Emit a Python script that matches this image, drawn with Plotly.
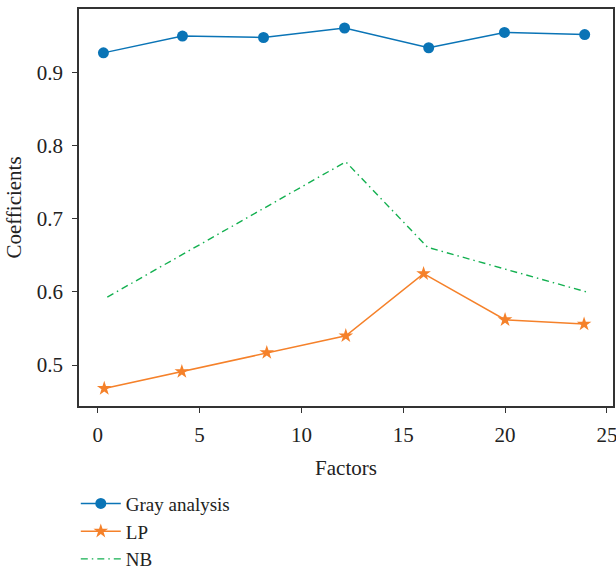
import plotly.graph_objects as go

# Data
gray_x = [0.28, 4.16, 8.14, 12.12, 16.25, 19.97, 23.91]
gray_y = [0.927, 0.950, 0.948, 0.961, 0.934, 0.955, 0.952]

lp_x = [0.32, 4.13, 8.3, 12.18, 16.0, 20.0, 23.88]
lp_y = [0.468, 0.491, 0.517, 0.540, 0.625, 0.562, 0.556]

nb_x = [0.47, 12.18, 16.2, 24.13]
nb_y = [0.593, 0.778, 0.661, 0.599]

x_ticks = [0, 5, 10, 15, 20, 25]
y_ticks = [0.5, 0.6, 0.7, 0.8, 0.9]

BLUE = "#0a74b6"
ORANGE = "#f5812a"
GREEN = "#13b050"
FONT = "Liberation Serif"

fig = go.Figure()
fig.add_trace(go.Scatter(x=gray_x, y=gray_y, mode="lines+markers", name="Gray analysis",
                         line=dict(color=BLUE, width=1.5),
                         marker=dict(symbol="circle", size=11, color=BLUE)))
fig.add_trace(go.Scatter(x=lp_x, y=lp_y, mode="lines+markers", name="LP",
                         line=dict(color=ORANGE, width=1.5),
                         marker=dict(symbol="star", size=11, color=ORANGE)))
fig.add_trace(go.Scatter(x=nb_x, y=nb_y, mode="lines", name="NB",
                         line=dict(color=GREEN, width=1.4, dash="7px,4px,1.5px,4px")))

axis_common = dict(showgrid=False, zeroline=False, showline=True, linecolor="#333333",
                   linewidth=1.5, mirror=True, ticks="outside", ticklen=5, tickwidth=1.3,
                   tickcolor="#333333", ticklabeloverflow="allow",
                   tickfont=dict(family=FONT, size=21, color="#222222"))

fig.update_layout(
    width=616, height=570,
    margin=dict(l=79, r=3, t=9, b=164, autoexpand=False),
    plot_bgcolor="white", paper_bgcolor="white",
    font=dict(family=FONT, size=21, color="#222222"),
    xaxis=dict(range=[-0.92, 25.3], tickvals=x_ticks, ticktext=[str(v) for v in x_ticks],
               ticklabelstandoff=4, automargin=False,
               title=dict(text="Factors", font=dict(family=FONT, size=21), standoff=14),
               **axis_common),
    yaxis=dict(range=[0.444, 0.987], tickvals=y_ticks, ticktext=[f"{v:.1f}" for v in y_ticks],
               ticklabelstandoff=5, automargin=False,
               title=dict(text="Coefficients", font=dict(family=FONT, size=21), standoff=9),
               **axis_common),
    showlegend=True,
    legend=dict(x=-0.006, y=-0.198, xanchor="left", yanchor="top", bgcolor="rgba(0,0,0,0)",
                font=dict(family=FONT, size=19, color="#222222"), tracegroupgap=0,
                itemwidth=40),
)

# Remove the default page margin so the figure fills the window exactly
fig.write_html("out.html",
               config={"displayModeBar": False},
               post_script="document.body.style.margin='0';document.body.style.overflow='hidden';")
